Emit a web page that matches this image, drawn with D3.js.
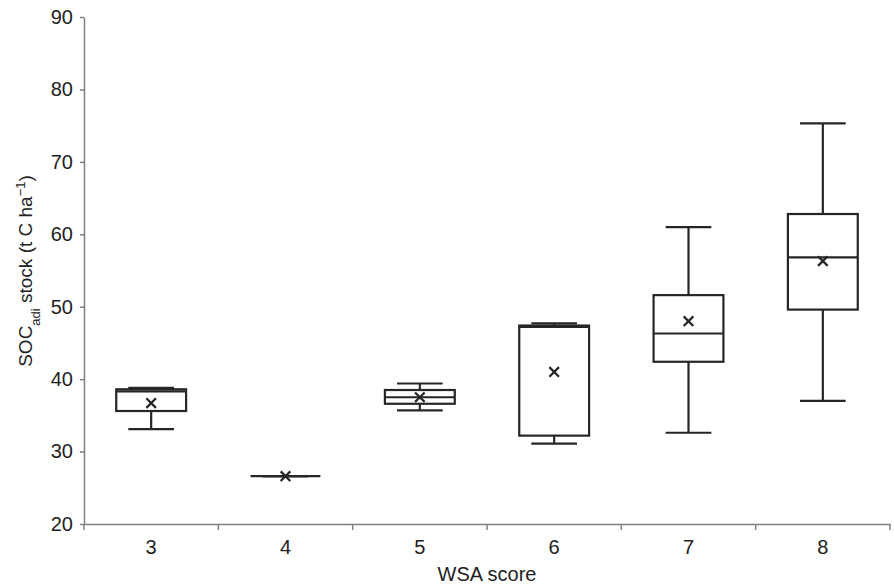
<!DOCTYPE html>
<html>
<head>
<meta charset="utf-8">
<script src="https://cdn.jsdelivr.net/npm/d3@7"></script>
<style>
  body { margin: 0; background: #fff; }
  text { font-family: "Liberation Sans", Arial, sans-serif; fill: #222; }
</style>
</head>
<body>
<div id="chart"></div>
<script>
// WSA score categories and box statistics
const categories = ['3', '4', '5', '6', '7', '8'];
const mins    = [33.1, 26.6, 35.7, 31.1, 32.6, 37.0];
const q1s     = [35.6, 26.6, 36.6, 32.2, 42.4, 49.6];
const medians = [38.3, 26.6, 37.5, 47.2, 46.3, 56.8];
const q3s     = [38.6, 26.6, 38.5, 47.4, 51.6, 62.8];
const maxs    = [38.8, 26.6, 39.4, 47.7, 61.0, 75.3];
const means   = [36.7, 26.6, 37.5, 41.0, 48.0, 56.3];
const yTicks  = [20, 30, 40, 50, 60, 70, 80, 90];

const boxes = categories.map((c, i) => ({
    cat: c, min: mins[i], q1: q1s[i], med: medians[i], q3: q3s[i], max: maxs[i], mean: means[i]
}));

const width = 894, height = 587;
const margin = { top: 17, right: 4, bottom: 64, left: 84 };

const svg = d3.select('#chart').append('svg')
    .attr('width', width)
    .attr('height', height);

const x = d3.scaleBand()
    .domain(categories)
    .range([margin.left, width - margin.right]);

const y = d3.scaleLinear()
    .domain([20, 90])
    .range([height - margin.bottom + 1, margin.top]);

const axisColor = '#808080';
const lineColor = '#262626';

// y axis
const yAxis = svg.append('g')
    .attr('transform', 'translate(' + margin.left + ',0)')
    .call(d3.axisLeft(y).tickValues(yTicks).tickSize(4).tickSizeOuter(0).tickPadding(7));
yAxis.select('.domain').attr('stroke', axisColor).attr('stroke-width', 1.5);
yAxis.selectAll('.tick line').attr('stroke', axisColor).attr('stroke-width', 1.5);
yAxis.selectAll('.tick text').style('font-size', '20px').attr('fill', '#222');

// x axis: labels at band centres, ticks at band edges
const x0 = y(20);
const xAxis = svg.append('g')
    .attr('transform', 'translate(0,' + x0 + ')')
    .call(d3.axisBottom(x).tickSize(0).tickPadding(16));
xAxis.select('.domain').attr('stroke', axisColor).attr('stroke-width', 1.5);
xAxis.selectAll('.tick text').style('font-size', '20px').attr('fill', '#222');

const edges = categories.map(c => x(c)).concat([x.range()[1]]);
svg.append('g')
    .selectAll('line')
    .data(edges)
    .join('line')
    .attr('x1', d => d).attr('x2', d => d)
    .attr('y1', x0).attr('y2', x0 + 6)
    .attr('stroke', axisColor)
    .attr('stroke-width', 1.5);

// axis titles
svg.append('text')
    .attr('x', (margin.left + width - margin.right) / 2)
    .attr('y', 581)
    .attr('text-anchor', 'middle')
    .style('font-size', '20px')
    .text('WSA score');

const yTitle = svg.append('text')
    .attr('transform', 'translate(32,271) rotate(-90)')
    .attr('text-anchor', 'middle')
    .style('font-size', '19px');
yTitle.append('tspan').text('SOC');
yTitle.append('tspan').attr('baseline-shift', 'sub').style('font-size', '13px').text('adi');
yTitle.append('tspan').text(' stock (t C ha');
yTitle.append('tspan').attr('baseline-shift', 'super').style('font-size', '13px').text('\u22121');
yTitle.append('tspan').text(')');

// boxes
const boxW = x.bandwidth() * 0.52;
const capW = x.bandwidth() * 0.17;

const g = svg.append('g')
    .attr('stroke', lineColor)
    .attr('stroke-width', 2.2)
    .attr('fill', 'none');

const box = g.selectAll('.box')
    .data(boxes)
    .join('g')
    .attr('class', 'box')
    .attr('transform', d => 'translate(' + (x(d.cat) + x.bandwidth() / 2) + ',0)');

// whiskers
box.append('line')
    .attr('x1', 0).attr('x2', 0)
    .attr('y1', d => y(d.q3)).attr('y2', d => y(d.max));
box.append('line')
    .attr('x1', 0).attr('x2', 0)
    .attr('y1', d => y(d.q1)).attr('y2', d => y(d.min));
box.append('line')
    .attr('x1', -capW).attr('x2', capW)
    .attr('y1', d => y(d.max)).attr('y2', d => y(d.max));
box.append('line')
    .attr('x1', -capW).attr('x2', capW)
    .attr('y1', d => y(d.min)).attr('y2', d => y(d.min));

// box
box.append('rect')
    .attr('x', -boxW / 2)
    .attr('width', boxW)
    .attr('y', d => y(d.q3))
    .attr('height', d => y(d.q1) - y(d.q3))
    .attr('fill', '#fff');

// median
box.append('line')
    .attr('x1', -boxW / 2).attr('x2', boxW / 2)
    .attr('y1', d => y(d.med)).attr('y2', d => y(d.med));

// mean marker
const m = 4.8;
box.append('path')
    .attr('d', d => {
        const cy = y(d.mean);
        return 'M' + (-m) + ',' + (cy - m) + 'L' + m + ',' + (cy + m) +
            'M' + m + ',' + (cy - m) + 'L' + (-m) + ',' + (cy + m);
    })
    .attr('stroke-width', 2.3);
</script>
</body>
</html>
